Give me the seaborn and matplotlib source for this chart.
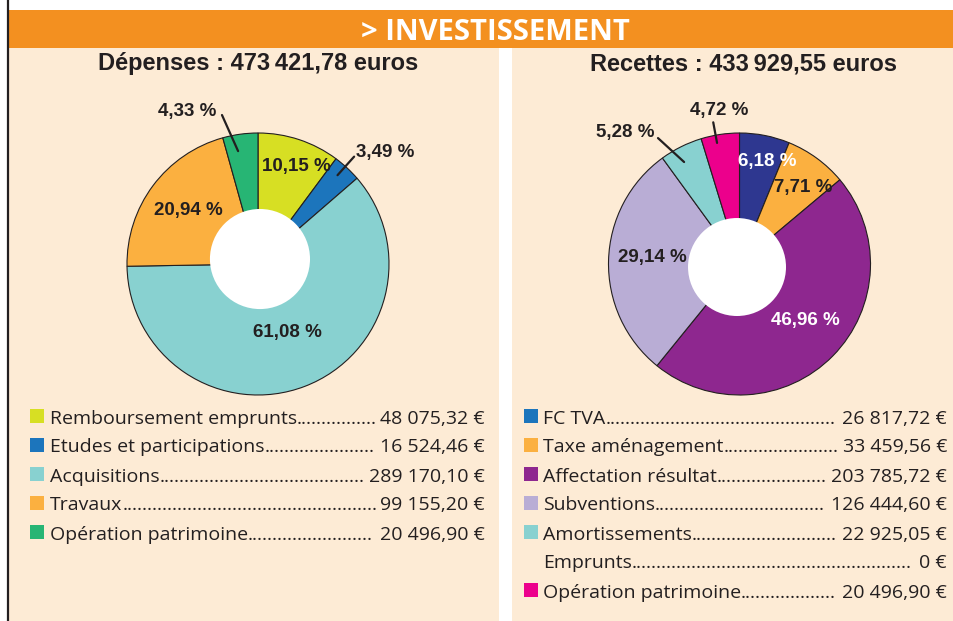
import numpy as np
import matplotlib
matplotlib.use("Agg")
import matplotlib.pyplot as plt
import seaborn as sns
from matplotlib.patches import Rectangle, Circle

# ---- data ----
header = "> INVESTISSEMENT"
dep_title = "Dépenses : 473\u2009421,78 euros"
rec_title = "Recettes : 433\u2009929,55 euros"

dep_labels = ["Remboursement emprunts", "Etudes et participations", "Acquisitions",
              "Travaux", "Opération patrimoine"]
dep_amounts = [48075.32, 16524.46, 289170.10, 99155.20, 20496.90]
dep_pcts = ["10,15 %", "3,49 %", "61,08 %", "20,94 %", "4,33 %"]
dep_colors = ["#D7DF23", "#1C75BC", "#88D1D0", "#FBB040", "#27B574"]

rec_labels = ["FC TVA", "Taxe aménagement", "Affectation résultat", "Subventions",
              "Amortissements", "Emprunts", "Opération patrimoine"]
rec_amounts = [26817.72, 33459.56, 203785.72, 126444.60, 22925.05, 0.0, 20496.90]
rec_pcts = ["6,18 %", "7,71 %", "46,96 %", "29,14 %", "5,28 %", "", "4,72 %"]
rec_colors = ["#2E3790", "#FBB040", "#8E278F", "#B9ADD5", "#88D1D0", None, "#EC008C"]
rec_legend_colors = ["#1C75BC", "#FBB040", "#8E278F", "#B9ADD5", "#88D1D0", None, "#EC008C"]

# ---- label styles: ("in", r, dtheta, color) or ("out", r0, dt0, r1, dt1, ha, dx, dy) ----
dep_style = [("in", 0.80, -3, "#231F20"),
             ("out", 0.91, 1, 1.10, 1, "left", 0.015, 0.03),
             ("in", 0.57, 2, "#231F20"),
             ("in", 0.67, -1, "#231F20"),
             ("out", 0.875, 2.2, 1.17, 5.8, "right", -0.04, 0.025)]
rec_style = [("in", 0.81, -4, "white"),
             ("in", 0.76, -3.5, "#231F20"),
             ("in", 0.66, 4, "white"),
             ("in", 0.67, -3, "#231F20"),
             ("out", 0.886, 2, 1.145, 6.4, "right", -0.025, 0.04),
             None,
             ("out", 0.94, 2, 1.10, 2, "center", 0.045, 0.09)]

DARK = "#231F20"
ORANGE = "#F39020"
BEIGE = "#FDEBD5"
W, H = 954, 621

sns.set_theme(style="white")
plt.rcParams["font.family"] = ["Open Sans", "DejaVu Sans"]
NARROW = ["Liberation Sans", "DejaVu Sans"]
TITLEF = ["Liberation Sans", "DejaVu Sans"]
PCT_SIZE = 13.5


def fmt_euro(v):
    if v == 0:
        return "0 €"
    s = f"{v:,.2f}".replace(",", " ").replace(".", ",")
    return s + " €"


fig = plt.figure(figsize=(W / 100, H / 100), dpi=100)
fig.patch.set_facecolor("white")

bg = fig.add_axes([0, 0, 1, 1])
bg.set_xlim(0, W)
bg.set_ylim(H, 0)
bg.axis("off")

bg.add_patch(Rectangle((9, 10), W - 9, 38, color=ORANGE, lw=0))
bg.add_patch(Rectangle((9, 48), 490, H - 48, color=BEIGE, lw=0))
bg.add_patch(Rectangle((512, 48), W - 512, H - 48, color=BEIGE, lw=0))
bg.plot([8, 8], [0, H], color=DARK, lw=1.6, solid_capstyle="butt")

bg.text(495, 40.5, header, ha="center", va="baseline", color="white",
        fontsize=21, fontweight="bold")
bg.text(258, 70, dep_title, ha="center", va="baseline", color=DARK,
        fontsize=17, fontweight="bold", family=TITLEF)
bg.text(744, 70, rec_title, ha="center", va="baseline", color=DARK,
        fontsize=17, fontweight="bold", family=TITLEF)


def draw_pie(cx, cy, amounts, colors, pcts, styles, hole):
    r = 131
    ax = fig.add_axes([(cx - r) / W, (H - cy - r) / H, 2 * r / W, 2 * r / H])
    keep = [i for i, v in enumerate(amounts) if v > 0]
    vals = [amounts[i] for i in keep]
    cols = [colors[i] for i in keep]
    wedges, _ = ax.pie(vals, colors=cols, startangle=90, counterclock=False,
                       wedgeprops=dict(edgecolor=DARK, linewidth=0.8))
    ax.set_xlim(-1, 1)
    ax.set_ylim(-1, 1)
    ax.set_aspect("equal")
    ax.axis("off")
    ax.add_patch(Circle((hole[0], hole[1]), hole[2], color="white", zorder=5, lw=0))
    for w, i in zip(wedges, keep):
        st = styles[i]
        mid = (w.theta1 + w.theta2) / 2
        if st[0] == "in":
            a = np.radians(mid + st[2])
            ax.text(st[1] * np.cos(a), st[1] * np.sin(a), pcts[i], ha="center",
                    va="center", color=st[3], fontsize=PCT_SIZE, fontweight="bold",
                    family=NARROW, zorder=6)
        else:
            _, r0, d0, r1, d1, ha, dx, dy = st
            a0, a1 = np.radians(mid + d0), np.radians(mid + d1)
            x0, y0 = r0 * np.cos(a0), r0 * np.sin(a0)
            x1, y1 = r1 * np.cos(a1), r1 * np.sin(a1)
            ax.plot([x0, x1], [y0, y1], color=DARK, lw=1.6, clip_on=False, zorder=6)
            ax.text(x1 + dx, y1 + dy, pcts[i], ha=ha, va="center", color=DARK,
                    fontsize=PCT_SIZE, fontweight="bold", family=NARROW, zorder=6,
                    clip_on=False)
    return ax


draw_pie(258, 264, dep_amounts, dep_colors, dep_pcts, dep_style, (0.015, 0.038, 0.382))
draw_pie(739.5, 264, rec_amounts, rec_colors, rec_pcts, rec_style, (-0.019, -0.023, 0.374))

# legends
rows = []
for labels, amounts, cols, x_sq, x_txt, x_end in [
        (dep_labels, dep_amounts, dep_colors, 30, 50, 485),
        (rec_labels, rec_amounts, rec_legend_colors, 524, 543, 947)]:
    for i, (lab, v, c) in enumerate(zip(labels, amounts, cols)):
        yc = 416 + 29 * i
        if c is not None:
            bg.add_patch(Rectangle((x_sq, yc - 7), 14, 14, color=c, lw=0))
        t1 = bg.text(x_txt, yc + 7.5, lab, ha="left", va="baseline", color=DARK, fontsize=14)
        t2 = bg.text(x_end, yc + 7.5, fmt_euro(v), ha="right", va="baseline", color=DARK,
                     fontsize=14)
        rows.append((t1, t2, yc))

fig.canvas.draw()
renderer = fig.canvas.get_renderer()
probe = bg.text(0, 0, "." * 40, fontsize=14)
dot_w = probe.get_window_extent(renderer).width / 40
probe.remove()
for t1, t2, yc in rows:
    x1 = t1.get_window_extent(renderer).x1
    x0 = t2.get_window_extent(renderer).x0
    n = int((x0 - x1 - 3) / dot_w)
    if n > 0:
        bg.text(x1, yc + 7.5, "." * n, ha="left", va="baseline", color=DARK, fontsize=14)

fig.savefig("out.png", dpi=100, facecolor="white")
